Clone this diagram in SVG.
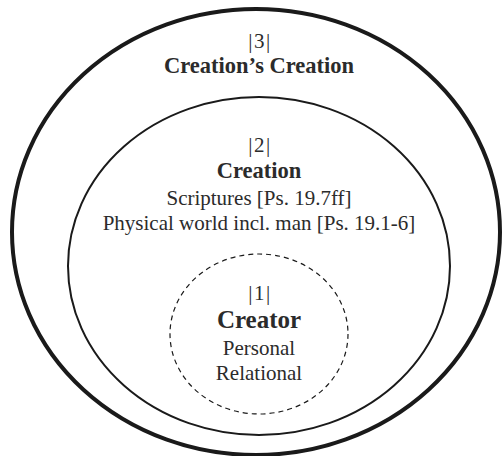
<svg xmlns="http://www.w3.org/2000/svg" width="502" height="456" viewBox="0 0 502 456">
<style>
  text { font-family: "Liberation Serif", "Times New Roman", serif; fill: #2b2b2b; text-anchor: middle; }
  .num { font-size: 21px; letter-spacing: 1.5px; }
  .title { font-size: 22.5px; font-weight: bold; }
  .big { font-size: 25px; font-weight: bold; }
  .sub { font-size: 21px; }
  .ring { fill: none; stroke: #1a1a1a; }
</style>
<rect width="502" height="456" fill="#ffffff"/>
<g id="node3">
  <ellipse class="ring" cx="256" cy="232" rx="244" ry="223" stroke-width="4"/>
  <text class="num" x="260" y="48">|3|</text>
  <text class="title" x="259" y="73">Creation’s Creation</text>
</g>
<g id="node2">
  <ellipse class="ring" cx="259" cy="266" rx="191" ry="169" stroke-width="2"/>
  <text class="num" x="260" y="152">|2|</text>
  <text class="title" x="259" y="178">Creation</text>
  <text class="sub" x="259" y="205">Scriptures [Ps. 19.7ff]</text>
  <text class="sub" x="259" y="230">Physical world incl. man [Ps. 19.1-6]</text>
</g>
<g id="node1">
  <ellipse class="ring" cx="259" cy="334" rx="89" ry="80" stroke-width="1.2" stroke-dasharray="5,4"/>
  <text class="num" x="260" y="300">|1|</text>
  <text class="big" x="259" y="328">Creator</text>
  <text class="sub" x="259" y="355">Personal</text>
  <text class="sub" x="259" y="380">Relational</text>
</g>
<g id="connectors"></g>
</svg>
